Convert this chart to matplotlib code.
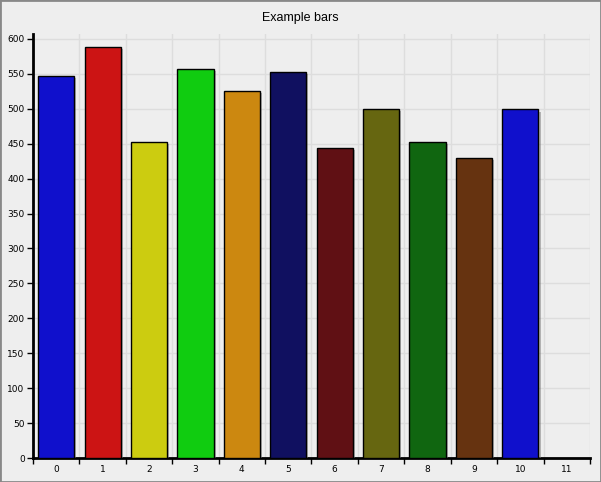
import matplotlib
matplotlib.use('Agg')
import matplotlib.pyplot as plt
import matplotlib.patheffects as pe
import numpy as np

# data
categories = list(range(12))
values = [547, 588, 452, 557, 525, 553, 444, 500, 452, 430, 499]
colors = ['#1010cc', '#cc1414', '#cccc10', '#10cc10', '#cc8810', '#101060',
          '#601014', '#666610', '#106610', '#663310', '#1010cc']

bg = '#eeeeee'
fig = plt.figure(figsize=(6.01, 4.82), dpi=100, facecolor=bg)
ax = fig.add_axes([33/601, 1-458/482, (590-33)/601, (458-34)/482])
ax.set_facecolor(bg)

# gray frame around the whole picture
fig.patches.append(plt.Rectangle((0, 0), 1, 1, transform=fig.transFigure,
                                 fill=False, edgecolor='#888888', linewidth=2))

x = np.arange(len(values))
bars = ax.bar(x, values, width=0.78, color=colors, edgecolor='black',
              linewidth=1.0, zorder=3)
for b in bars:
    b.set_path_effects([pe.SimplePatchShadow(offset=(1.5, -1.5), shadow_rgbFace='#777777', alpha=0.5),
                        pe.Normal()])

ax.set_xlim(-0.5, 11.5)
ax.set_ylim(0, 607)

# grid at category boundaries and every 50
ax.set_xticks(np.arange(-0.5, 12, 1))
ax.set_xticklabels([])
ax.set_xticks(categories, minor=True)
ax.set_xticklabels([str(c) for c in categories], minor=True, fontsize=6.5)
ax.tick_params(axis='x', which='minor', length=0, pad=5)
ax.tick_params(axis='x', which='major', direction='out', length=4, width=1)
ax.set_yticks(np.arange(0, 601, 50))
ax.tick_params(axis='y', direction='out', length=4, width=1, labelsize=6.5, pad=2)
ax.grid(True, which='major', color='#dddddd', linewidth=1, zorder=0)
ax.set_axisbelow(True)

for s in ['top', 'right']:
    ax.spines[s].set_visible(False)
ax.spines['left'].set_linewidth(2)
ax.spines['bottom'].set_linewidth(2)
ax.spines['left'].set_bounds(0, 607)

fig.text(0.5, 1-18/482, 'Example bars', ha='center', va='center',
         fontsize=9, family='Liberation Sans')

plt.savefig('out.png', dpi=100, facecolor=bg)
